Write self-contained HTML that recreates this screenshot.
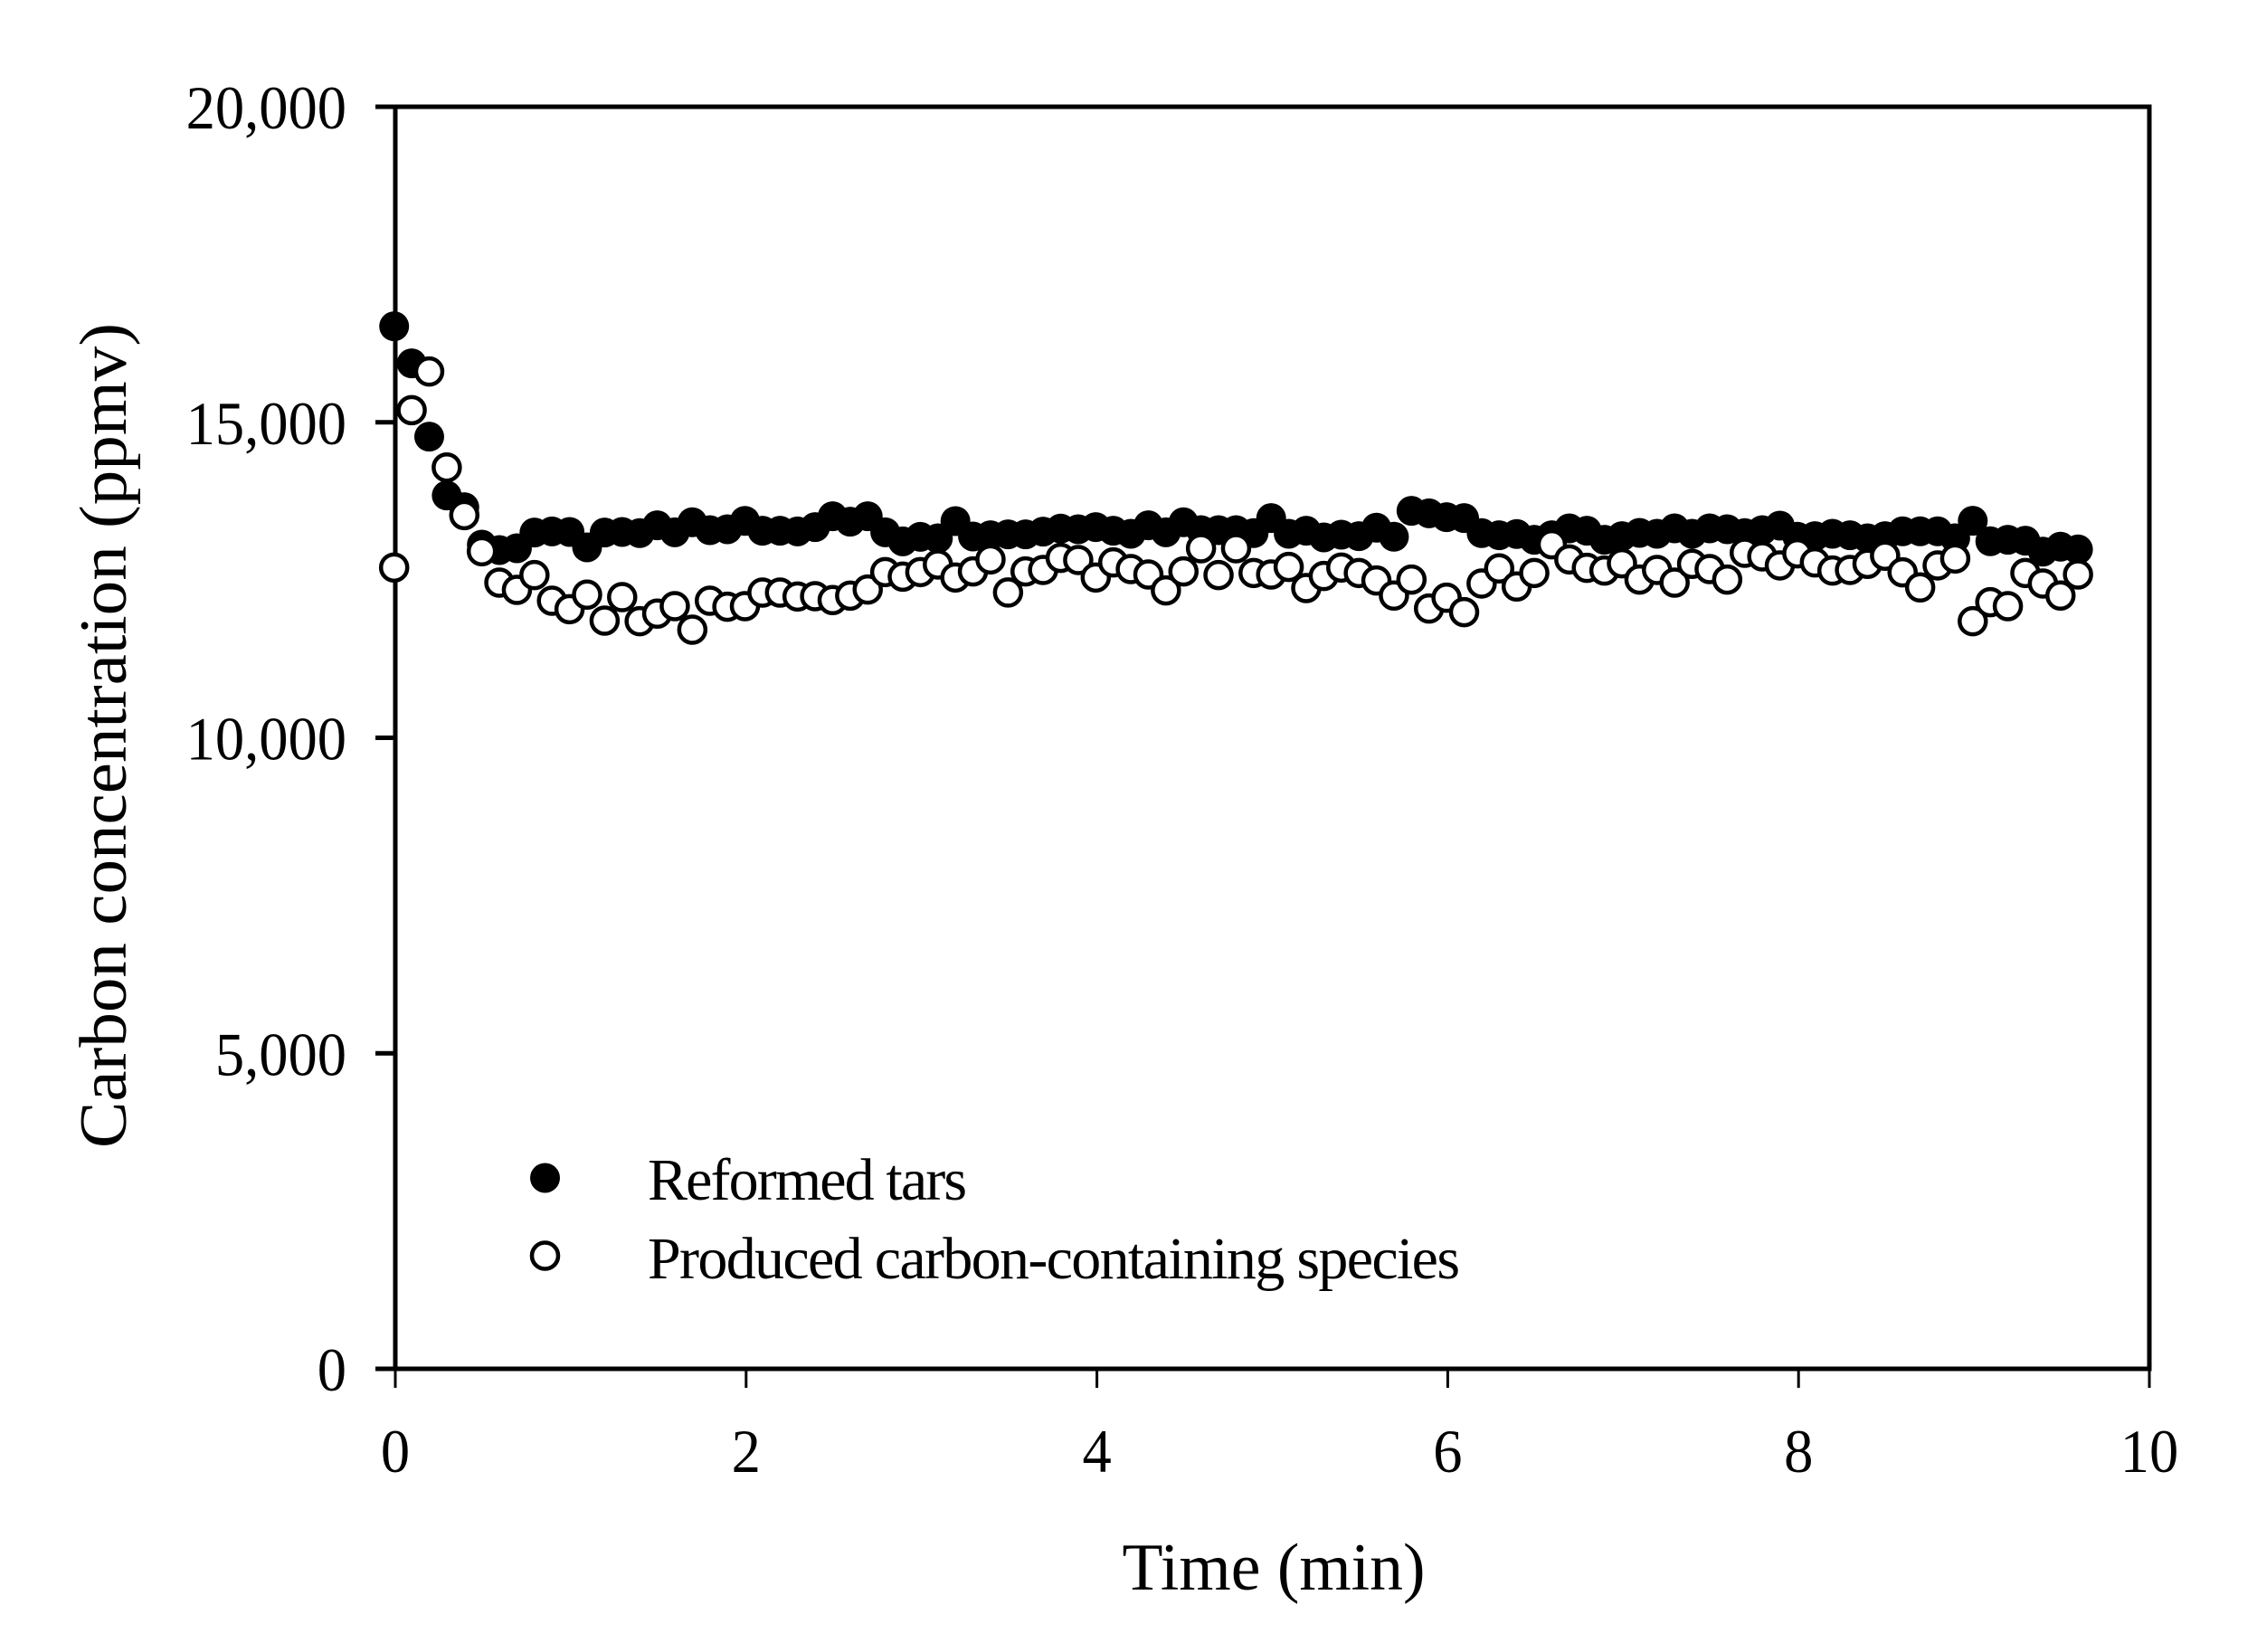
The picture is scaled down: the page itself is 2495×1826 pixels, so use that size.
<!DOCTYPE html>
<html lang="en">
<head>
<meta charset="utf-8">
<title>Carbon concentration over time</title>
<style>
html,body{margin:0;padding:0;background:#fff;}
svg{display:block;}
text{font-family:"Liberation Serif","Times New Roman",serif;fill:#000;}
</style>
</head>
<body>
<svg id="chart" xmlns="http://www.w3.org/2000/svg" width="2495" height="1826" viewBox="0 0 2495 1826">
  <rect x="0" y="0" width="2495" height="1826" fill="#fff"/>
  <g id="frame"></g>
  <g id="xticks"></g>
  <g id="yticks"></g>
  <g id="reformed"></g>
  <g id="produced"></g>
  <text x="1408" y="1757" font-size="74" text-anchor="middle" textLength="335" lengthAdjust="spacingAndGlyphs">Time (min)</text>
  <text x="0" y="0" transform="translate(139 813) rotate(-90)" font-size="74" text-anchor="middle" textLength="912" lengthAdjust="spacingAndGlyphs">Carbon concentration (ppmv)</text>
  <g>
    <circle cx="602.5" cy="1302" r="16.5" fill="#000"/>
    <text x="716" y="1326" font-size="66" textLength="353" lengthAdjust="spacing">Reformed tars</text>
    <circle cx="602.5" cy="1388" r="14.5" fill="#fff" stroke="#000" stroke-width="4.5"/>
    <text x="716" y="1413" font-size="66" textLength="898" lengthAdjust="spacing">Produced carbon-containing species</text>
  </g>
</svg>
<script>
const times = [0,0.1,0.2,0.3,0.4,0.5,0.6,0.7,0.8,0.9,1,1.1,1.2,1.3,1.4,1.5,1.6,1.7,1.8,1.9,2,2.1,2.2,2.3,2.4,2.5,2.6,2.7,2.8,2.9,3,3.1,3.2,3.3,3.4,3.5,3.6,3.7,3.8,3.9,4,4.1,4.2,4.3,4.4,4.5,4.6,4.7,4.8,4.9,5,5.1,5.2,5.3,5.4,5.5,5.6,5.7,5.8,5.9,6,6.1,6.2,6.3,6.4,6.5,6.6,6.7,6.8,6.9,7,7.1,7.2,7.3,7.4,7.5,7.6,7.7,7.8,7.9,8,8.1,8.2,8.3,8.4,8.5,8.6,8.7,8.8,8.9,9,9.1,9.2,9.3,9.4,9.5,9.6];
const reformedTars = [16521,15933,14772,13840,13654,13061,12975,13004,13252,13271,13262,13018,13252,13262,13243,13367,13257,13415,13290,13305,13438,13281,13281,13271,13338,13510,13424,13510,13257,13113,13185,13161,13434,13190,13210,13224,13224,13267,13315,13305,13339,13281,13233,13367,13257,13415,13291,13291,13291,13243,13482,13233,13281,13176,13219,13195,13329,13186,13597,13558,13496,13482,13243,13210,13230,13138,13210,13319,13281,13138,13195,13248,13233,13319,13233,13319,13305,13243,13291,13362,13186,13195,13233,13210,13162,13195,13272,13272,13272,13162,13439,13114,13138,13123,12950,13028,12985];
const producedSpecies = [12698,15192,15804,14284,13529,12956,12459,12344,12578,12172,12038,12268,11857,12229,11847,11967,12086,11713,12172,12077,12086,12301,12301,12239,12244,12182,12253,12349,12626,12554,12626,12746,12540,12636,12827,12302,12636,12660,12851,12818,12540,12779,12674,12588,12335,12636,13004,12579,13004,12612,12588,12708,12373,12564,12698,12612,12493,12254,12507,12048,12220,11991,12445,12684,12397,12612,13066,12827,12693,12650,12765,12507,12660,12459,12756,12674,12507,12932,12875,12732,12923,12779,12650,12660,12756,12885,12622,12383,12732,12841,11847,12149,12086,12612,12445,12254,12588];
const xTickValues = [0,2,4,6,8,10];
const yTickValues = [0,5000,10000,15000,20000];
const yTickLabels = ["0","5,000","10,000","15,000","20,000"];

const NS = "http://www.w3.org/2000/svg";
const plot = {left:437, right:2376, top:118, bottom:1513};
const markerShift = -1.3;
const xDomain = [0,10];
const yDomain = [0,20000];
function xScale(v){return plot.left + (v-xDomain[0])/(xDomain[1]-xDomain[0])*(plot.right-plot.left);}
function yScale(v){return plot.bottom - (v-yDomain[0])/(yDomain[1]-yDomain[0])*(plot.bottom-plot.top);}
function labelWidth(s){
  let em = 0;
  for (const ch of s) em += (ch === "," ? 0.25 : 0.5);
  return em * 64.5;
}
function make(tag, attrs, parent){
  const el = document.createElementNS(NS, tag);
  for (const k in attrs) el.setAttribute(k, attrs[k]);
  parent.appendChild(el);
  return el;
}

const frame = document.getElementById("frame");
const frameRect = make("rect", {x:plot.left, y:plot.top, width:plot.right-plot.left, height:plot.bottom-plot.top, fill:"none", stroke:"#000", "stroke-width":5}, frame);



const xticks = document.getElementById("xticks");
xTickValues.forEach(function(v){
  const x = xScale(v);
  const tick = make("line", {x1:x, x2:x, y1:plot.bottom, y2:1534, stroke:"#000", "stroke-width":3}, xticks);
  
  
  const text = String(v);
  const label = make("text", {x:x, y:1627, "font-size":68, "text-anchor":"middle", textLength:labelWidth(text), lengthAdjust:"spacingAndGlyphs"}, xticks);
  
  
  label.textContent = text;
});

const yticks = document.getElementById("yticks");
yTickValues.forEach(function(v, i){
  const y = yScale(v);
  const tick = make("line", {x1:415, x2:plot.left, y1:y, y2:y, stroke:"#000", "stroke-width":5}, yticks);
  
  
  const text = yTickLabels[i];
  const label = make("text", {x:383, y:y+24, "font-size":68, "text-anchor":"end", textLength:labelWidth(text), lengthAdjust:"spacingAndGlyphs"}, yticks);
  
  
  label.textContent = text;
});

const reformedGroup = document.getElementById("reformed");
reformedTars.forEach(function(v, i){
  const dot = make("circle", {cx:xScale(times[i])+markerShift, cy:yScale(v), r:16.5, fill:"#000"}, reformedGroup);
  
  
});

const producedGroup = document.getElementById("produced");
producedSpecies.forEach(function(v, i){
  const dot = make("circle", {cx:xScale(times[i])+markerShift, cy:yScale(v), r:14.5, fill:"#fff", stroke:"#000", "stroke-width":4.5}, producedGroup);
  
  
});
</script>
</body>
</html>
